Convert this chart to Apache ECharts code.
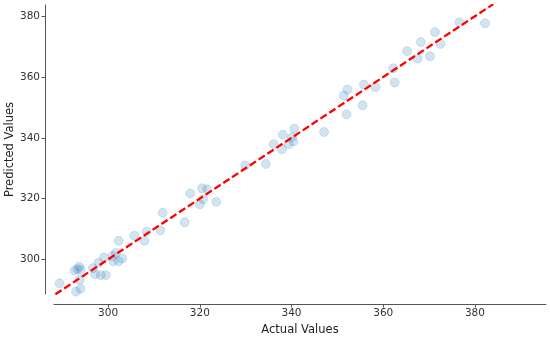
<!DOCTYPE html>
<html>
<head>
<meta charset="utf-8">
<script src="https://cdn.jsdelivr.net/npm/echarts@6/dist/echarts.min.js"></script>
<style>html,body{margin:0;padding:0;background:#fff}#c{width:550px;height:339px}</style>
</head>
<body>
<div id="c"></div>
<script>
const actualValues = [289.4,289.8,292.7,293.3,293.7,294.0,293.8,293.0,294.0,296.7,297.2,298.4,299.5,297.9,299.1,301.0,301.7,301.1,302.3,303.1,302.3,305.7,307.9,308.4,311.4,311.9,316.7,317.9,320.5,321.6,320.7,320.0,323.6,329.9,334.4,336.1,337.9,338.1,340.6,340.1,340.4,339.4,347.1,352.0,351.4,352.2,355.5,355.8,358.3,362.5,362.2,365.2,367.5,368.2,370.2,371.3,372.5,376.6,382.2];
const predictedValues = [292.1,288.2,296.3,296.8,297.6,296.6,293.3,289.4,290.3,297.1,295.1,294.8,294.8,298.9,300.6,301.1,302.1,299.4,299.4,300.3,306.1,307.8,306.1,309.1,309.6,315.3,312.2,321.7,323.4,323.1,319.8,318.1,318.9,330.9,331.4,337.9,336.2,341.0,343.0,340.2,338.8,337.9,341.9,347.7,353.9,355.9,350.7,357.5,356.7,358.2,362.9,368.5,366.1,371.5,366.8,374.8,370.9,378.0,377.7];
const idealLine = [288.5, 384.0];
const xTicks = [300, 320, 340, 360, 380];
const yTicks = [300, 320, 340, 360, 380];

const pts = actualValues.map((a, i) => [a, predictedValues[i]]);
const font = 'DejaVu Sans';
const chart = echarts.init(document.getElementById('c'), null, {renderer: 'canvas'});
chart.setOption({
  animation: false,
  backgroundColor: '#fff',
  grid: {left: 54, right: 4, top: 5, bottom: 45, containLabel: false, outerBoundsMode: 'none'},
  xAxis: {
    type: 'value', min: 288.2, max: 395.5, offset: 10,
    name: 'Actual Values', nameLocation: 'middle', nameGap: 20, nameMoveOverlap: false,
    nameTextStyle: {fontFamily: font, fontSize: 11.5, color: '#222'},
    axisLine: {show: true, lineStyle: {color: '#555', width: 1}},
    axisTick: {show: true, length: 3.5, lineStyle: {color: '#555'}, customValues: xTicks},
    axisLabel: {fontFamily: font, fontSize: 10.5, color: '#333', margin: 4, customValues: xTicks},
    splitLine: {show: false}
  },
  yAxis: {
    type: 'value', min: 288.6, max: 383.7, offset: 9,
    name: 'Predicted Values', nameLocation: 'middle', nameGap: 29, nameRotate: 90, nameMoveOverlap: false,
    nameTextStyle: {fontFamily: font, fontSize: 11.5, color: '#222'},
    axisLine: {show: true, lineStyle: {color: '#555', width: 1}},
    axisTick: {show: true, length: 3.5, lineStyle: {color: '#555'}, customValues: yTicks},
    axisLabel: {fontFamily: font, fontSize: 10.5, color: '#333', margin: 5, customValues: yTicks},
    splitLine: {show: false}
  },
  series: [
    {
      type: 'scatter', data: pts, symbol: 'circle', symbolSize: 9,
      itemStyle: {color: 'rgba(31,119,180,0.25)', borderColor: 'rgba(31,119,180,0.2)', borderWidth: 1},
      z: 2
    },
    {
      type: 'line', data: [[idealLine[0], idealLine[0]], [idealLine[1], idealLine[1]]],
      symbol: 'none', clip: true,
      lineStyle: {color: '#ff0000', width: 2.3, type: [7.4, 3.2]},
      z: 3
    }
  ]
});
</script>
</body>
</html>
